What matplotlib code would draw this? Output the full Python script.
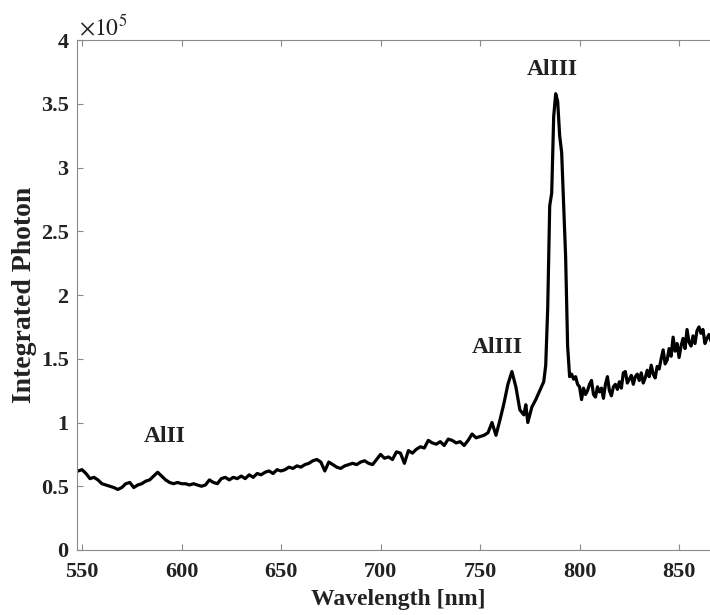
import numpy as np
import matplotlib
matplotlib.use("Agg")
import matplotlib.pyplot as plt
from matplotlib.ticker import FuncFormatter, MultipleLocator

plt.rcParams['font.family'] = ['Liberation Serif', 'DejaVu Serif']
plt.rcParams['mathtext.fontset'] = 'stix'

# spectrum (intensity in units of 1e5 photons)
# 548-795 nm, mostly every 2 nm
wl_low = [548, 550, 552, 554, 556, 558, 560, 562, 564, 566, 568, 570, 572, 574, 576, 578,
          580, 582, 584, 586, 588, 590, 592, 594, 596, 598, 600, 602, 604, 606, 608, 610,
          612, 614, 616, 618, 620, 622, 624, 626, 628, 630, 632, 634, 636, 638, 640, 642,
          644, 646, 648, 650, 652, 654, 656, 658, 660, 662, 664, 666, 668, 670, 672, 674,
          676, 678, 680, 682, 684, 686, 688, 690, 692, 694, 696, 698, 700, 702, 704, 706,
          708, 710, 712, 714, 716, 718, 720, 722, 724, 726, 728, 730, 732, 734, 736, 738,
          740, 742, 744, 746, 748, 750, 752, 754, 756, 758, 760, 762, 764, 766, 768, 770,
          772, 773, 774, 776, 778, 780, 782, 783, 784, 785, 786, 787, 788, 789, 790, 791,
          792, 793, 794, 795]
int_low = [0.62, 0.63, 0.60, 0.56, 0.57, 0.55, 0.52, 0.51, 0.50, 0.49, 0.475, 0.49, 0.52, 0.53, 0.49, 0.51,
           0.52, 0.54, 0.55, 0.58, 0.61, 0.58, 0.55, 0.53, 0.52, 0.53, 0.52, 0.52, 0.51, 0.52, 0.51, 0.50,
           0.51, 0.55, 0.53, 0.52, 0.56, 0.57, 0.55, 0.57, 0.56, 0.58, 0.56, 0.59, 0.57, 0.60, 0.59, 0.61,
           0.62, 0.60, 0.63, 0.62, 0.63, 0.65, 0.64, 0.66, 0.65, 0.67, 0.68, 0.70, 0.71, 0.69, 0.62, 0.69,
           0.67, 0.65, 0.64, 0.66, 0.67, 0.68, 0.67, 0.69, 0.70, 0.68, 0.67, 0.71, 0.75, 0.72, 0.73, 0.71,
           0.77, 0.76, 0.68, 0.78, 0.76, 0.79, 0.81, 0.80, 0.86, 0.84, 0.83, 0.85, 0.82, 0.87, 0.86, 0.84,
           0.85, 0.82, 0.86, 0.91, 0.88, 0.89, 0.90, 0.92, 1.00, 0.90, 1.02, 1.15, 1.30, 1.40, 1.28, 1.10,
           1.06, 1.14, 1.00, 1.12, 1.18, 1.25, 1.32, 1.45, 1.90, 2.70, 2.80, 3.40, 3.58, 3.52, 3.25, 3.12,
           2.70, 2.30, 1.60, 1.36]
# 796-867 nm, every 1 nm (noisy red end)
wl_high = list(range(796, 868))
int_high = [1.38, 1.34, 1.36, 1.30, 1.28, 1.18, 1.27, 1.22, 1.25, 1.30, 1.33, 1.22, 1.20, 1.28, 1.24, 1.27,
            1.19, 1.30, 1.36, 1.25, 1.21, 1.28, 1.30, 1.26, 1.32, 1.27, 1.39, 1.40, 1.31, 1.34, 1.37, 1.30,
            1.36, 1.38, 1.33, 1.39, 1.31, 1.35, 1.41, 1.36, 1.45, 1.38, 1.35, 1.44, 1.42, 1.50, 1.57, 1.46,
            1.49, 1.58, 1.52, 1.67, 1.56, 1.62, 1.51, 1.60, 1.66, 1.58, 1.73, 1.63, 1.60, 1.68, 1.62, 1.72,
            1.75, 1.70, 1.73, 1.62, 1.66, 1.69, 1.64, 1.66]

# line labels: (text, wavelength, intensity)
peak_labels = [("AlII", 591.5, 0.89), ("AlIII", 758.5, 1.59), ("AlIII", 786.5, 3.77)]

wl = np.array(wl_low + wl_high)
y = np.array(int_low + int_high) * 1e5

fig = plt.figure(figsize=(7.10, 6.15), dpi=100)
ax = fig.add_axes([0.1085, 0.1057, 0.904, 0.829])
ax.plot(wl, y, color='black', lw=2.3)

for txt, xw, yv in peak_labels:
    ax.text(xw, yv * 1e5, txt, ha='center', va='center', fontsize=17, fontweight='bold',
            color='#222222')

ax.set_xlim(547.5, 870)
ax.set_ylim(0, 4e5)
ax.xaxis.set_major_locator(MultipleLocator(50))
ax.yaxis.set_major_locator(MultipleLocator(0.5e5))
ax.yaxis.set_major_formatter(FuncFormatter(lambda v, p: f"{v / 1e5:g}"))

grey = '#8a8a8a'
for s in ax.spines.values():
    s.set_color(grey)
ax.tick_params(direction='in', length=4, color=grey, top=True, right=True,
               labelsize=16, labelcolor='#222222')
ax.tick_params(axis='x', pad=9)
ax.tick_params(axis='y', pad=6)
for lab in ax.get_xticklabels() + ax.get_yticklabels():
    lab.set_fontweight('bold')

ax.set_xlabel('Wavelength [nm]', fontsize=17, fontweight='bold', color='#222222', labelpad=5)
ax.set_ylabel('Integrated Photon', fontsize=20, fontweight='bold', color='#222222', labelpad=3)
ax.text(0.003, 1.0, r'$\times10^{5}$', transform=ax.transAxes, fontsize=17,
        ha='left', va='bottom', color='#222222')

fig.savefig('out.png', dpi=100)
